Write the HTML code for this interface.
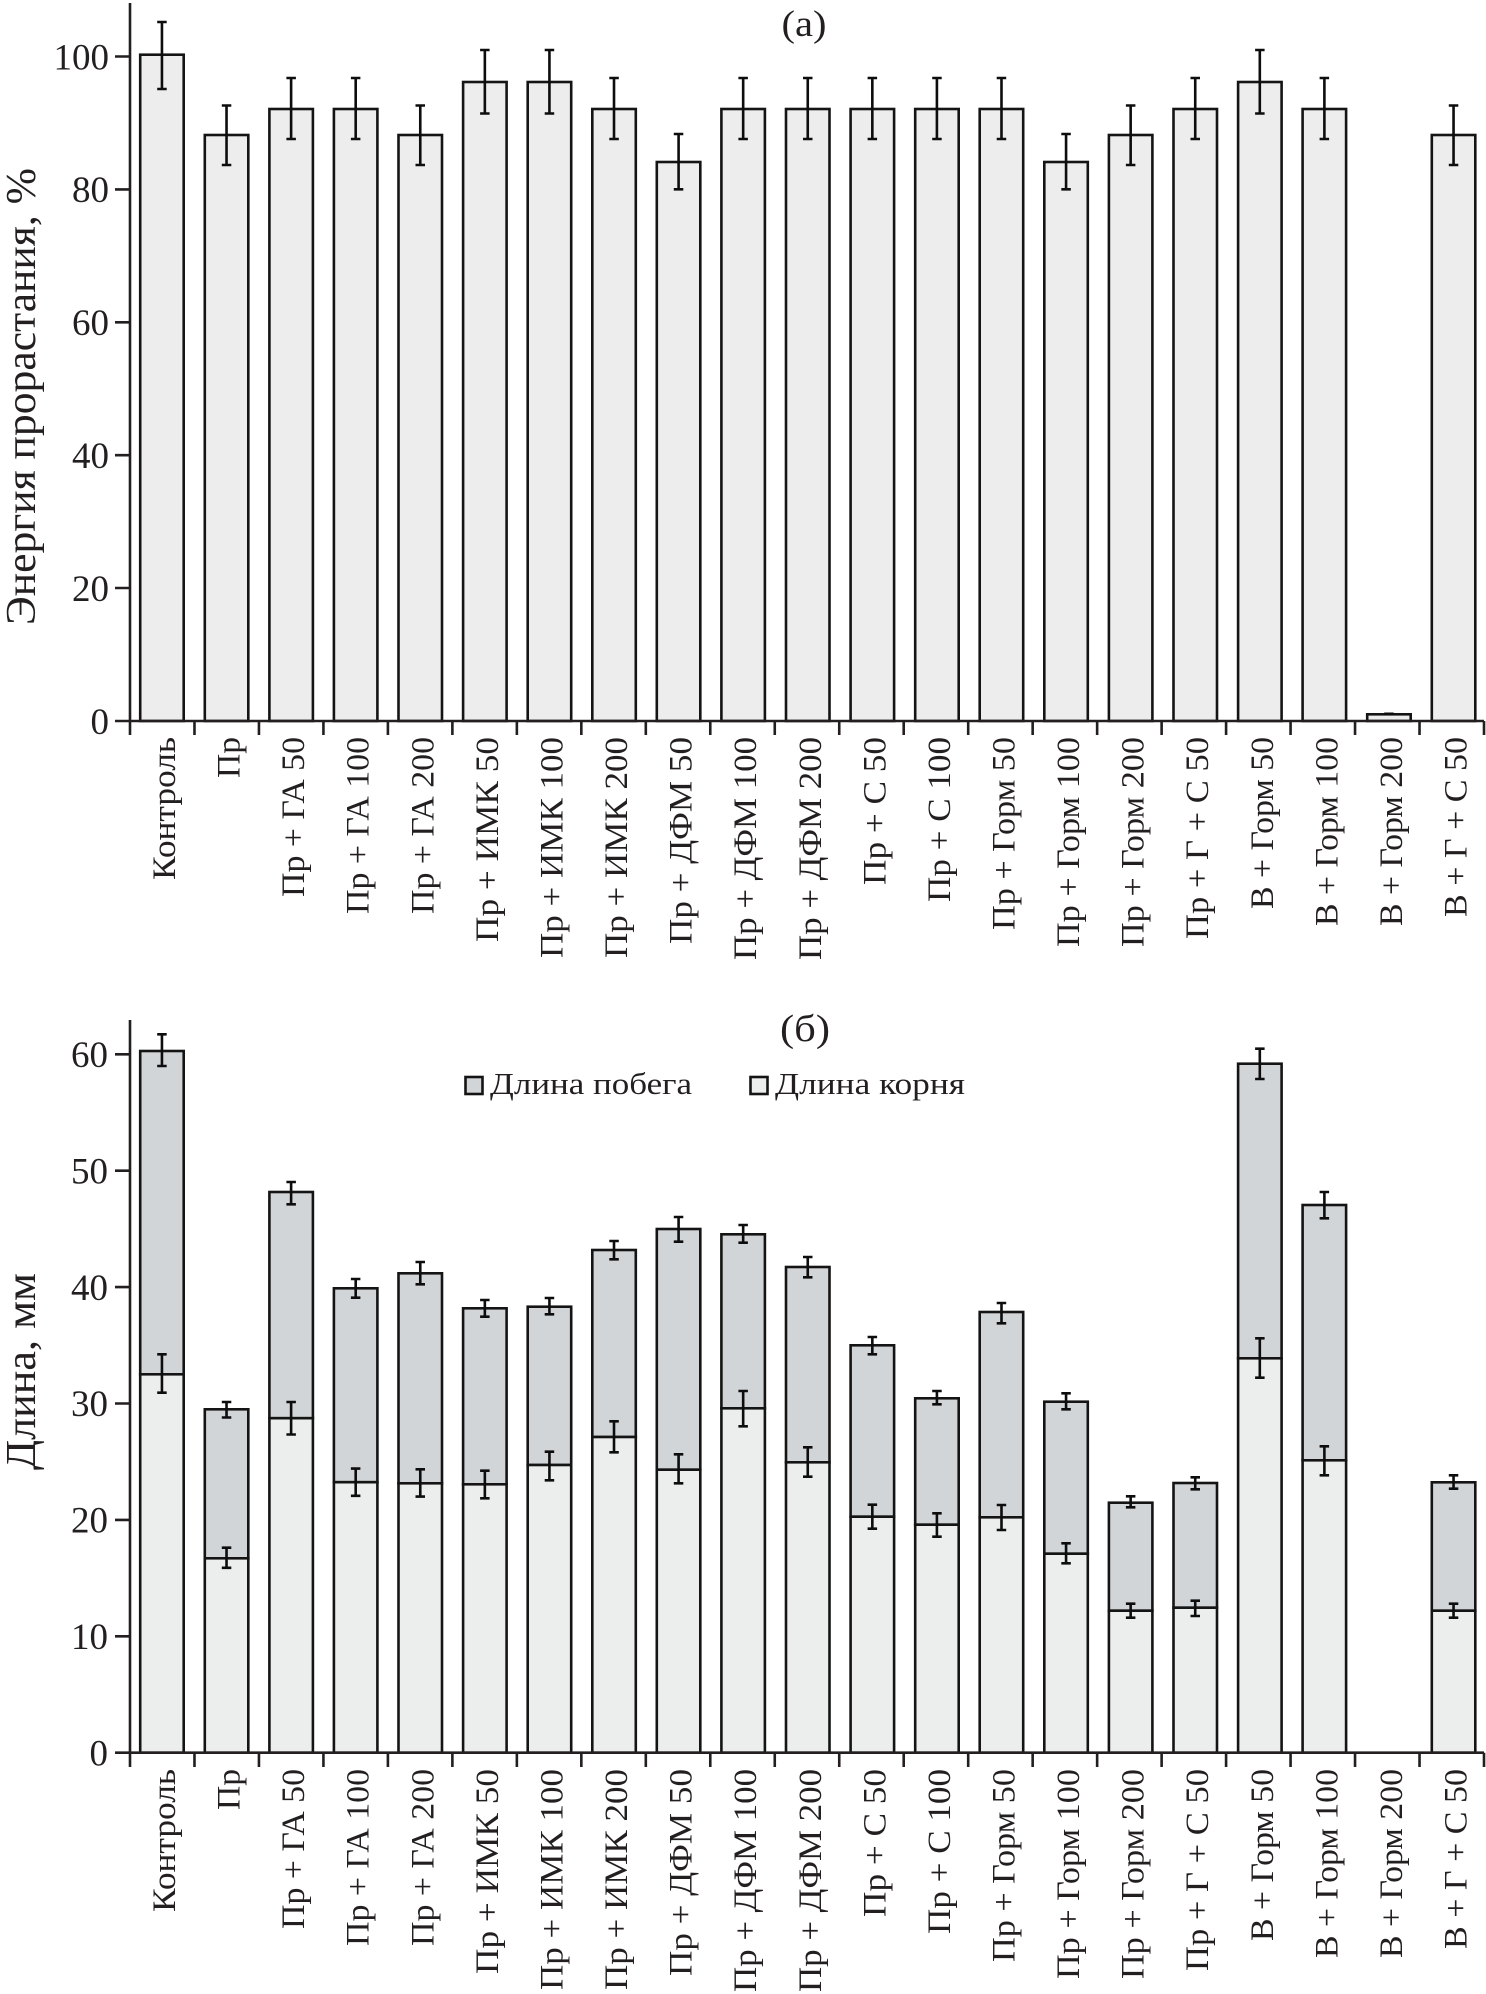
<!DOCTYPE html>
<html>
<head>
<meta charset="utf-8">
<style>
html,body{margin:0;padding:0;background:#fff;}
svg{display:block;}
text{font-family:"Liberation Serif","Noto Serif CJK SC",serif;fill:#231f20;}
.t{font-size:37px;text-anchor:end;}
.xl{font-size:33px;text-anchor:end;}
.bar{fill:#ecedec;stroke:#141414;stroke-width:2.6;}
.sh{fill:#d2d5d8;stroke:#141414;stroke-width:2.6;}
.rt{fill:#eceeed;stroke:#141414;stroke-width:2.6;}
.ax{stroke:#231f20;stroke-width:2.6;fill:none;}
.er{stroke:#0d0d0d;stroke-width:2.6;fill:none;}
</style>
</head>
<body>
<svg width="1486" height="1994" viewBox="0 0 1486 1994" xmlns="http://www.w3.org/2000/svg">
<rect width="1486" height="1994" fill="#fff"/>

<!-- ================= PANEL A ================= -->
<text x="804" y="36" font-size="37" text-anchor="middle" textLength="45" lengthAdjust="spacingAndGlyphs">(а)</text>
<text transform="translate(35,396.5) rotate(-90)" font-size="42" text-anchor="middle" textLength="457" lengthAdjust="spacingAndGlyphs">Энергия прорастания, %</text>

<!-- bars -->
<g>
<rect class="bar" x="140.2" y="54.7" width="43.5" height="666.3"/>
<rect class="bar" x="204.8" y="135" width="43.5" height="586"/>
<rect class="bar" x="269.4" y="109" width="43.5" height="612"/>
<rect class="bar" x="333.9" y="109" width="43.5" height="612"/>
<rect class="bar" x="398.5" y="135" width="43.5" height="586"/>
<rect class="bar" x="463.1" y="82" width="43.5" height="639"/>
<rect class="bar" x="527.7" y="82" width="43.5" height="639"/>
<rect class="bar" x="592.3" y="109" width="43.5" height="612"/>
<rect class="bar" x="656.8" y="162" width="43.5" height="559"/>
<rect class="bar" x="721.4" y="109" width="43.5" height="612"/>
<rect class="bar" x="786" y="109" width="43.5" height="612"/>
<rect class="bar" x="850.6" y="109" width="43.5" height="612"/>
<rect class="bar" x="915.2" y="109" width="43.5" height="612"/>
<rect class="bar" x="979.7" y="109" width="43.5" height="612"/>
<rect class="bar" x="1044.3" y="162" width="43.5" height="559"/>
<rect class="bar" x="1108.9" y="135" width="43.5" height="586"/>
<rect class="bar" x="1173.5" y="109" width="43.5" height="612"/>
<rect class="bar" x="1238.1" y="82" width="43.5" height="639"/>
<rect class="bar" x="1302.6" y="109" width="43.5" height="612"/>
<rect class="bar" x="1367.2" y="714.3" width="43.5" height="6.7"/>
<rect class="bar" x="1431.8" y="135" width="43.5" height="586"/>
</g>

<!-- error bars a -->
<path class="er" d="
M161.95 22V89M157.2 22h9.5M157.2 89h9.5
M226.53 105.5V165M221.8 105.5h9.5M221.8 165h9.5
M291.11 78V139M286.4 78h9.5M286.4 139h9.5
M355.69 78V139M350.9 78h9.5M350.9 139h9.5
M420.27 105.5V165M415.5 105.5h9.5M415.5 165h9.5
M484.85 50V113.5M480.1 50h9.5M480.1 113.5h9.5
M549.43 50V113.5M544.7 50h9.5M544.7 113.5h9.5
M614.01 78V139M609.3 78h9.5M609.3 139h9.5
M678.59 134V189.3M673.8 134h9.5M673.8 189.3h9.5
M743.17 78V139M738.4 78h9.5M738.4 139h9.5
M807.75 78V139M803 78h9.5M803 139h9.5
M872.33 78V139M867.6 78h9.5M867.6 139h9.5
M936.91 78V139M932.2 78h9.5M932.2 139h9.5
M1001.49 78V139M996.7 78h9.5M996.7 139h9.5
M1066.07 134V189.3M1061.3 134h9.5M1061.3 189.3h9.5
M1130.65 105.5V165M1125.9 105.5h9.5M1125.9 165h9.5
M1195.23 78V139M1190.5 78h9.5M1190.5 139h9.5
M1259.81 50V113.5M1255.1 50h9.5M1255.1 113.5h9.5
M1324.39 78V139M1319.6 78h9.5M1319.6 139h9.5
M1384.2 713.8h9.5
M1453.55 105.5V165M1448.8 105.5h9.5M1448.8 165h9.5"/>

<!-- axes a -->
<path class="ax" d="M130 3V735M130 721H1484
M115 721H130M115 588H130M115 455.2H130M115 322.3H130M115 189.4H130M115 56.5H130
M194.48 721V735M258.95 721V735M323.43 721V735M387.9 721V735M452.38 721V735M516.86 721V735M581.33 721V735M645.81 721V735M710.28 721V735M774.76 721V735M839.24 721V735M903.71 721V735M968.19 721V735M1032.66 721V735M1097.14 721V735M1161.62 721V735M1226.09 721V735M1290.57 721V735M1355.04 721V735M1419.52 721V735M1484 721V735"/>

<text class="t" x="109" y="734">0</text>
<text class="t" x="109" y="601">20</text>
<text class="t" x="109" y="468">40</text>
<text class="t" x="109" y="335">60</text>
<text class="t" x="109" y="202">80</text>
<text class="t" x="109" y="69.5">100</text>

<!-- x labels a -->
<g lengthAdjust="spacingAndGlyphs">
<text class="xl" transform="translate(175,737) rotate(-90)" textLength="143" lengthAdjust="spacingAndGlyphs">Контроль</text>
<text class="xl" transform="translate(239.5,737) rotate(-90)" textLength="41" lengthAdjust="spacingAndGlyphs">Пр</text>
<text class="xl" transform="translate(304.1,737) rotate(-90)" textLength="160" lengthAdjust="spacingAndGlyphs">Пр + ГА 50</text>
<text class="xl" transform="translate(368.7,737) rotate(-90)" textLength="177" lengthAdjust="spacingAndGlyphs">Пр + ГА 100</text>
<text class="xl" transform="translate(433.3,737) rotate(-90)" textLength="177" lengthAdjust="spacingAndGlyphs">Пр + ГА 200</text>
<text class="xl" transform="translate(497.9,737) rotate(-90)" textLength="205" lengthAdjust="spacingAndGlyphs">Пр + ИМК 50</text>
<text class="xl" transform="translate(562.4,737) rotate(-90)" textLength="221" lengthAdjust="spacingAndGlyphs">Пр + ИМК 100</text>
<text class="xl" transform="translate(627,737) rotate(-90)" textLength="221" lengthAdjust="spacingAndGlyphs">Пр + ИМК 200</text>
<text class="xl" transform="translate(691.6,737) rotate(-90)" textLength="207" lengthAdjust="spacingAndGlyphs">Пр + ДФМ 50</text>
<text class="xl" transform="translate(756.2,737) rotate(-90)" textLength="223" lengthAdjust="spacingAndGlyphs">Пр + ДФМ 100</text>
<text class="xl" transform="translate(820.8,737) rotate(-90)" textLength="223" lengthAdjust="spacingAndGlyphs">Пр + ДФМ 200</text>
<text class="xl" transform="translate(885.3,737) rotate(-90)" textLength="148" lengthAdjust="spacingAndGlyphs">Пр + С 50</text>
<text class="xl" transform="translate(949.9,737) rotate(-90)" textLength="165" lengthAdjust="spacingAndGlyphs">Пр + С 100</text>
<text class="xl" transform="translate(1014.5,737) rotate(-90)" textLength="193" lengthAdjust="spacingAndGlyphs">Пр + Горм 50</text>
<text class="xl" transform="translate(1079.1,737) rotate(-90)" textLength="210" lengthAdjust="spacingAndGlyphs">Пр + Горм 100</text>
<text class="xl" transform="translate(1143.7,737) rotate(-90)" textLength="210" lengthAdjust="spacingAndGlyphs">Пр + Горм 200</text>
<text class="xl" transform="translate(1208.2,737) rotate(-90)" textLength="202" lengthAdjust="spacingAndGlyphs">Пр + Г + С 50</text>
<text class="xl" transform="translate(1272.8,737) rotate(-90)" textLength="172" lengthAdjust="spacingAndGlyphs">В + Горм 50</text>
<text class="xl" transform="translate(1337.4,737) rotate(-90)" textLength="189" lengthAdjust="spacingAndGlyphs">В + Горм 100</text>
<text class="xl" transform="translate(1402,737) rotate(-90)" textLength="189" lengthAdjust="spacingAndGlyphs">В + Горм 200</text>
<text class="xl" transform="translate(1466.6,737) rotate(-90)" textLength="180" lengthAdjust="spacingAndGlyphs">В + Г + С 50</text>
</g>

<!-- ================= PANEL B ================= -->
<text x="805" y="1041" font-size="38" text-anchor="middle" textLength="50" lengthAdjust="spacingAndGlyphs">(б)</text>
<text transform="translate(35,1371.5) rotate(-90)" font-size="42" text-anchor="middle" textLength="197" lengthAdjust="spacingAndGlyphs">Длина, мм</text>

<!-- legend -->
<rect class="sh" x="465.5" y="1077" width="17" height="17"/>
<text x="490" y="1094" font-size="31" textLength="202" lengthAdjust="spacingAndGlyphs">Длина побега</text>
<rect class="rt" x="750.5" y="1077" width="17" height="17"/>
<text x="775" y="1094" font-size="31" textLength="190" lengthAdjust="spacingAndGlyphs">Длина корня</text>

<!-- stacked bars: shoot (top) -->
<g>
<rect class="sh" x="140.2" y="1051" width="43.5" height="323.3"/>
<rect class="sh" x="204.8" y="1409.3" width="43.5" height="149"/>
<rect class="sh" x="269.4" y="1192" width="43.5" height="226.2"/>
<rect class="sh" x="333.9" y="1288.3" width="43.5" height="193.9"/>
<rect class="sh" x="398.5" y="1273.3" width="43.5" height="210"/>
<rect class="sh" x="463.1" y="1308.3" width="43.5" height="176"/>
<rect class="sh" x="527.7" y="1306.7" width="43.5" height="158.3"/>
<rect class="sh" x="592.3" y="1250" width="43.5" height="187"/>
<rect class="sh" x="656.8" y="1229" width="43.5" height="240.7"/>
<rect class="sh" x="721.4" y="1234.3" width="43.5" height="174"/>
<rect class="sh" x="786" y="1267" width="43.5" height="195.3"/>
<rect class="sh" x="850.6" y="1345.3" width="43.5" height="171.4"/>
<rect class="sh" x="915.2" y="1398.3" width="43.5" height="126.4"/>
<rect class="sh" x="979.7" y="1312" width="43.5" height="205.3"/>
<rect class="sh" x="1044.3" y="1401.7" width="43.5" height="152"/>
<rect class="sh" x="1108.9" y="1502.7" width="43.5" height="108"/>
<rect class="sh" x="1173.5" y="1483" width="43.5" height="124.7"/>
<rect class="sh" x="1238.1" y="1063.7" width="43.5" height="294.6"/>
<rect class="sh" x="1302.6" y="1205" width="43.5" height="255.3"/>
<rect class="sh" x="1431.8" y="1482.3" width="43.5" height="128.4"/>
</g>
<!-- root (bottom) -->
<g>
<rect class="rt" x="140.2" y="1374.3" width="43.5" height="378.4"/>
<rect class="rt" x="204.8" y="1558.3" width="43.5" height="194.4"/>
<rect class="rt" x="269.4" y="1418.2" width="43.5" height="334.5"/>
<rect class="rt" x="333.9" y="1482.2" width="43.5" height="270.5"/>
<rect class="rt" x="398.5" y="1483.3" width="43.5" height="269.4"/>
<rect class="rt" x="463.1" y="1484.3" width="43.5" height="268.4"/>
<rect class="rt" x="527.7" y="1465" width="43.5" height="287.7"/>
<rect class="rt" x="592.3" y="1437" width="43.5" height="315.7"/>
<rect class="rt" x="656.8" y="1469.7" width="43.5" height="283"/>
<rect class="rt" x="721.4" y="1408.3" width="43.5" height="344.4"/>
<rect class="rt" x="786" y="1462.3" width="43.5" height="290.4"/>
<rect class="rt" x="850.6" y="1516.7" width="43.5" height="236"/>
<rect class="rt" x="915.2" y="1524.7" width="43.5" height="228"/>
<rect class="rt" x="979.7" y="1517.3" width="43.5" height="235.4"/>
<rect class="rt" x="1044.3" y="1553.7" width="43.5" height="199"/>
<rect class="rt" x="1108.9" y="1610.7" width="43.5" height="142"/>
<rect class="rt" x="1173.5" y="1607.7" width="43.5" height="145"/>
<rect class="rt" x="1238.1" y="1358.3" width="43.5" height="394.4"/>
<rect class="rt" x="1302.6" y="1460.3" width="43.5" height="292.4"/>
<rect class="rt" x="1431.8" y="1610.7" width="43.5" height="142"/>
</g>

<!-- error bars b -->
<path class="er" d="
M161.95 1034.3V1066M157.2 1034.3h9.5M157.2 1066h9.5
M161.95 1354.3V1392.7M157.2 1354.3h9.5M157.2 1392.7h9.5
M226.53 1402V1417.5M221.8 1402h9.5M221.8 1417.5h9.5
M226.53 1547.7V1567.8M221.8 1547.7h9.5M221.8 1567.8h9.5
M291.11 1182V1204.3M286.4 1182h9.5M286.4 1204.3h9.5
M291.11 1402V1434.5M286.4 1402h9.5M286.4 1434.5h9.5
M355.69 1279V1297.7M350.9 1279h9.5M350.9 1297.7h9.5
M355.69 1468.6V1495.8M350.9 1468.6h9.5M350.9 1495.8h9.5
M420.27 1262V1284.3M415.5 1262h9.5M415.5 1284.3h9.5
M420.27 1469.3V1496.6M415.5 1469.3h9.5M415.5 1496.6h9.5
M484.85 1300V1316.7M480.1 1300h9.5M480.1 1316.7h9.5
M484.85 1470.7V1498.3M480.1 1470.7h9.5M480.1 1498.3h9.5
M549.43 1298V1314.3M544.7 1298h9.5M544.7 1314.3h9.5
M549.43 1451.7V1480.3M544.7 1451.7h9.5M544.7 1480.3h9.5
M614.01 1241V1259.3M609.3 1241h9.5M609.3 1259.3h9.5
M614.01 1421.3V1452.3M609.3 1421.3h9.5M609.3 1452.3h9.5
M678.59 1217V1241.7M673.8 1217h9.5M673.8 1241.7h9.5
M678.59 1454.3V1483.3M673.8 1454.3h9.5M673.8 1483.3h9.5
M743.17 1225V1242.7M738.4 1225h9.5M738.4 1242.7h9.5
M743.17 1391V1426.3M738.4 1391h9.5M738.4 1426.3h9.5
M807.75 1257V1277.3M803 1257h9.5M803 1277.3h9.5
M807.75 1447.3V1476.7M803 1447.3h9.5M803 1476.7h9.5
M872.33 1337V1354.3M867.6 1337h9.5M867.6 1354.3h9.5
M872.33 1504.7V1528.7M867.6 1504.7h9.5M867.6 1528.7h9.5
M936.91 1391V1404.3M932.2 1391h9.5M932.2 1404.3h9.5
M936.91 1513.3V1536.7M932.2 1513.3h9.5M932.2 1536.7h9.5
M1001.49 1303V1323.3M996.7 1303h9.5M996.7 1323.3h9.5
M1001.49 1505V1530M996.7 1505h9.5M996.7 1530h9.5
M1066.07 1393.3V1409.3M1061.3 1393.3h9.5M1061.3 1409.3h9.5
M1066.07 1543.3V1563.3M1061.3 1543.3h9.5M1061.3 1563.3h9.5
M1130.65 1496.3V1507.3M1125.9 1496.3h9.5M1125.9 1507.3h9.5
M1130.65 1603.7V1617.7M1125.9 1603.7h9.5M1125.9 1617.7h9.5
M1195.23 1477.3V1489.3M1190.5 1477.3h9.5M1190.5 1489.3h9.5
M1195.23 1600.7V1616M1190.5 1600.7h9.5M1190.5 1616h9.5
M1259.81 1048.7V1079M1255.1 1048.7h9.5M1255.1 1079h9.5
M1259.81 1338.3V1377.7M1255.1 1338.3h9.5M1255.1 1377.7h9.5
M1324.39 1192V1218.3M1319.6 1192h9.5M1319.6 1218.3h9.5
M1324.39 1446.3V1475.3M1319.6 1446.3h9.5M1319.6 1475.3h9.5
M1453.55 1475.3V1488.7M1448.8 1475.3h9.5M1448.8 1488.7h9.5
M1453.55 1603.7V1617.7M1448.8 1603.7h9.5M1448.8 1617.7h9.5"/>

<!-- axes b -->
<path class="ax" d="M130 1020V1767M130 1752.7H1484
M115 1752.7H130M115 1636.3H130M115 1519.9H130M115 1403.5H130M115 1287.1H130M115 1170.7H130M115 1054.3H130
M194.48 1752.7V1767M258.95 1752.7V1767M323.43 1752.7V1767M387.9 1752.7V1767M452.38 1752.7V1767M516.86 1752.7V1767M581.33 1752.7V1767M645.81 1752.7V1767M710.28 1752.7V1767M774.76 1752.7V1767M839.24 1752.7V1767M903.71 1752.7V1767M968.19 1752.7V1767M1032.66 1752.7V1767M1097.14 1752.7V1767M1161.62 1752.7V1767M1226.09 1752.7V1767M1290.57 1752.7V1767M1355.04 1752.7V1767M1419.52 1752.7V1767M1484 1752.7V1767"/>

<text class="t" x="108" y="1765.5">0</text>
<text class="t" x="108" y="1649">10</text>
<text class="t" x="108" y="1532.5">20</text>
<text class="t" x="108" y="1416">30</text>
<text class="t" x="108" y="1300">40</text>
<text class="t" x="108" y="1183.5">50</text>
<text class="t" x="108" y="1067">60</text>

<!-- x labels b -->
<g>
<text class="xl" transform="translate(175,1769) rotate(-90)" textLength="143" lengthAdjust="spacingAndGlyphs">Контроль</text>
<text class="xl" transform="translate(239.5,1769) rotate(-90)" textLength="41" lengthAdjust="spacingAndGlyphs">Пр</text>
<text class="xl" transform="translate(304.1,1769) rotate(-90)" textLength="160" lengthAdjust="spacingAndGlyphs">Пр + ГА 50</text>
<text class="xl" transform="translate(368.7,1769) rotate(-90)" textLength="177" lengthAdjust="spacingAndGlyphs">Пр + ГА 100</text>
<text class="xl" transform="translate(433.3,1769) rotate(-90)" textLength="177" lengthAdjust="spacingAndGlyphs">Пр + ГА 200</text>
<text class="xl" transform="translate(497.9,1769) rotate(-90)" textLength="205" lengthAdjust="spacingAndGlyphs">Пр + ИМК 50</text>
<text class="xl" transform="translate(562.4,1769) rotate(-90)" textLength="221" lengthAdjust="spacingAndGlyphs">Пр + ИМК 100</text>
<text class="xl" transform="translate(627,1769) rotate(-90)" textLength="221" lengthAdjust="spacingAndGlyphs">Пр + ИМК 200</text>
<text class="xl" transform="translate(691.6,1769) rotate(-90)" textLength="207" lengthAdjust="spacingAndGlyphs">Пр + ДФМ 50</text>
<text class="xl" transform="translate(756.2,1769) rotate(-90)" textLength="223" lengthAdjust="spacingAndGlyphs">Пр + ДФМ 100</text>
<text class="xl" transform="translate(820.8,1769) rotate(-90)" textLength="223" lengthAdjust="spacingAndGlyphs">Пр + ДФМ 200</text>
<text class="xl" transform="translate(885.3,1769) rotate(-90)" textLength="148" lengthAdjust="spacingAndGlyphs">Пр + С 50</text>
<text class="xl" transform="translate(949.9,1769) rotate(-90)" textLength="165" lengthAdjust="spacingAndGlyphs">Пр + С 100</text>
<text class="xl" transform="translate(1014.5,1769) rotate(-90)" textLength="193" lengthAdjust="spacingAndGlyphs">Пр + Горм 50</text>
<text class="xl" transform="translate(1079.1,1769) rotate(-90)" textLength="210" lengthAdjust="spacingAndGlyphs">Пр + Горм 100</text>
<text class="xl" transform="translate(1143.7,1769) rotate(-90)" textLength="210" lengthAdjust="spacingAndGlyphs">Пр + Горм 200</text>
<text class="xl" transform="translate(1208.2,1769) rotate(-90)" textLength="202" lengthAdjust="spacingAndGlyphs">Пр + Г + С 50</text>
<text class="xl" transform="translate(1272.8,1769) rotate(-90)" textLength="172" lengthAdjust="spacingAndGlyphs">В + Горм 50</text>
<text class="xl" transform="translate(1337.4,1769) rotate(-90)" textLength="189" lengthAdjust="spacingAndGlyphs">В + Горм 100</text>
<text class="xl" transform="translate(1402,1769) rotate(-90)" textLength="189" lengthAdjust="spacingAndGlyphs">В + Горм 200</text>
<text class="xl" transform="translate(1466.6,1769) rotate(-90)" textLength="180" lengthAdjust="spacingAndGlyphs">В + Г + С 50</text>
</g>
</svg>
</body>
</html>
